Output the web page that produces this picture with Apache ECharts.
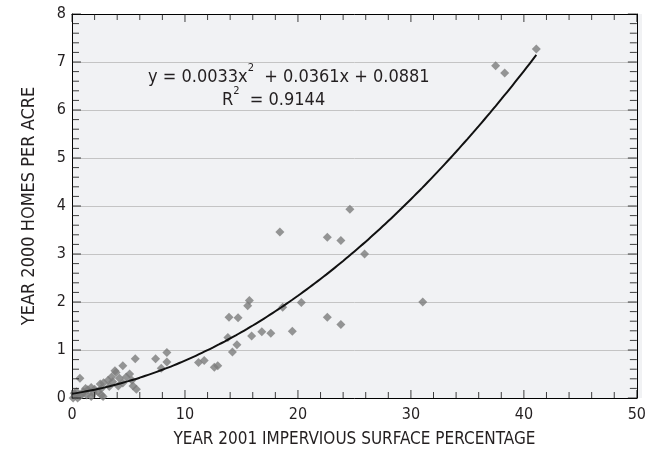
<!DOCTYPE html>
<html>
<head>
<meta charset="utf-8">
<script src="https://cdn.jsdelivr.net/npm/echarts@6/dist/echarts.min.js"></script>
<style>
html,body{margin:0;padding:0;background:#fff}
#wrap{position:relative;width:649px;height:456px;background:#fff}
#plotbg{position:absolute;left:72px;top:14px;width:570px;height:384px;background:#f1f2f4;z-index:0}
#c{position:absolute;left:0;top:0;width:649px;height:456px;z-index:1}
</style>
</head>
<body>
<div id="wrap"><div id="plotbg"></div><div id="c"></div></div>
<script>
var FONT = '"Liberation Sans Narrow","DejaVu Sans Condensed","Roboto Condensed",sans-serif';

var xValues = [0.1,0.5,0.3,0.7,1.3,1.7,2.6,2.75,0.4,1.0,1.4,1.7,1.9,2.3,0.7,2.5,2.8,2.6,3.2,3.3,3.5,3.6,3.8,3.9,4.1,4.2,4.5,4.5,4.8,5.1,5.3,5.4,5.7,5.6,7.4,7.9,8.4,8.4,0.2,0.9,1.2,2.0,
  11.2,11.7,12.6,12.9,13.8,14.2,14.6,13.9,14.7,15.55,15.7,15.9,16.8,17.6,18.4,18.65,19.5,20.3,22.6,22.6,23.8,23.8,24.6,25.9,31.05,37.5,38.3,41.1];
var yValues = [0.0,0.0,0.06,0.04,0.06,0.03,0.06,0.03,0.13,0.13,0.17,0.22,0.10,0.13,0.41,0.29,0.32,0.2,0.37,0.24,0.44,0.34,0.57,0.53,0.25,0.41,0.31,0.67,0.44,0.5,0.37,0.25,0.18,0.82,0.82,0.62,0.75,0.95,0.1,0.08,0.2,0.18,
  0.74,0.78,0.64,0.67,1.26,0.96,1.11,1.68,1.67,1.92,2.03,1.29,1.38,1.35,3.46,1.89,1.39,1.99,3.35,1.68,3.28,1.53,3.93,3.0,2.0,6.92,6.77,7.27];

// regression coefficients shown on the chart: y = a x^2 + b x + c
var fitCoef = [0.0033, 0.0361, 0.0881];
var fitRange = [0, 41.1];
var xTicks = [0, 10, 20, 30, 40, 50];
var yTicks = [0, 1, 2, 3, 4, 5, 6, 7, 8];
var minorSplit = 5;

var points = xValues.map(function (x, i) { return [x, yValues[i]]; });
var fit = [];
for (var x = fitRange[0]; x <= fitRange[1] + 1e-9; x += 0.5) {
  fit.push([x, fitCoef[0] * x * x + fitCoef[1] * x + fitCoef[2]]);
}
if (fit[fit.length - 1][0] < fitRange[1]) {
  var xe = fitRange[1];
  fit.push([xe, fitCoef[0] * xe * xe + fitCoef[1] * xe + fitCoef[2]]);
}

var xMin = xTicks[0], xMax = xTicks[xTicks.length - 1];
var yMin = yTicks[0], yMax = yTicks[yTicks.length - 1];
function minorOf(ticks) {
  var out = [];
  for (var i = 0; i < ticks.length - 1; i++) {
    var step = (ticks[i + 1] - ticks[i]) / minorSplit;
    for (var k = 1; k < minorSplit; k++) out.push(ticks[i] + step * k);
  }
  return out;
}
var xMinor = minorOf(xTicks), yMinor = minorOf(yTicks);

function tickSeries(values, side, len) {
  var data, size, offset;
  if (side === 'bottom') { data = values.map(function (v) { return [v, yMin]; }); size = [1, len]; offset = [0, -len / 2]; }
  if (side === 'top')    { data = values.map(function (v) { return [v, yMax]; }); size = [1, len]; offset = [0, len / 2]; }
  if (side === 'left')   { data = values.map(function (v) { return [xMin, v]; }); size = [len, 1]; offset = [len / 2, 0]; }
  if (side === 'right')  { data = values.map(function (v) { return [xMax, v]; }); size = [len, 1]; offset = [-len / 2, 0]; }
  return {
    type: 'scatter', data: data, symbol: 'rect', symbolSize: size, symbolOffset: offset,
    itemStyle: {color: '#111', borderWidth: 0}, clip: false, silent: true, z: 6,
    emphasis: {disabled: true}
  };
}

var chart = echarts.init(document.getElementById('c'));
function axisX(extra) {
  return Object.assign({
    type: 'value', min: xMin, max: xMax, interval: 10,
    axisLine: {show: true, onZero: false, lineStyle: {color: '#000'}},
    axisTick: {show: false}, minorTick: {show: false},
    splitLine: {show: false}
  }, extra);
}
function axisY(extra) {
  return Object.assign({
    type: 'value', min: yMin, max: yMax, interval: 1,
    axisLine: {show: true, onZero: false, lineStyle: {color: '#000'}},
    axisTick: {show: false}, minorTick: {show: false}
  }, extra);
}

chart.setOption({
  animation: false,
  backgroundColor: 'transparent',
  grid: {left: 72, right: 7, top: 14, bottom: 58, show: false},
  xAxis: [
    axisX({
      position: 'bottom',
      name: 'YEAR 2001 IMPERVIOUS SURFACE PERCENTAGE', nameLocation: 'middle', nameGap: 33,
      nameTextStyle: {fontFamily: FONT, fontSize: 17, color: '#231f20'},
      axisLabel: {show: true, fontFamily: FONT, fontSize: 16, color: '#231f20', margin: 9}
    }),
    axisX({position: 'top', axisLabel: {show: false}})
  ],
  yAxis: [
    axisY({
      position: 'left',
      name: 'YEAR 2000 HOMES PER ACRE', nameLocation: 'middle', nameGap: 34,
      nameTextStyle: {fontFamily: FONT, fontSize: 18, color: '#231f20'},
      axisLabel: {show: true, fontFamily: FONT, fontSize: 16, color: '#231f20', margin: 6},
      splitLine: {show: true, lineStyle: {color: '#c4c4c4', width: 1}}
    }),
    axisY({position: 'right', axisLabel: {show: false}, splitLine: {show: false}})
  ],
  series: [
    {
      type: 'scatter', data: points, symbol: 'diamond', symbolSize: 9,
      itemStyle: {color: '#7c7c7c'}, z: 3
    },
    {
      type: 'line', data: fit, showSymbol: false, smooth: true,
      lineStyle: {color: '#111', width: 2}, z: 4
    },
    tickSeries(xTicks, 'bottom', 8), tickSeries(xMinor, 'bottom', 6),
    tickSeries(xTicks, 'top', 8), tickSeries(xMinor, 'top', 6),
    tickSeries(yTicks, 'left', 9), tickSeries(yMinor, 'left', 7),
    tickSeries(yTicks, 'right', 9), tickSeries(yMinor, 'right', 7)
  ],
  graphic: [
    {
      type: 'text', left: 148, top: 63,
      style: {
        text: '{n|y = 0.0033x}{s|2}{n|  + 0.0361x + 0.0881}',
        rich: {
          n: {fontFamily: FONT, fontSize: 18, fill: '#231f20', lineHeight: 23, verticalAlign: 'bottom'},
          s: {fontFamily: FONT, fontSize: 11, fill: '#231f20', lineHeight: 23, verticalAlign: 'top'}
        }
      }
    },
    {
      type: 'text', left: 222, top: 86,
      style: {
        text: '{n|R}{s|2}{n|  = 0.9144}',
        rich: {
          n: {fontFamily: FONT, fontSize: 18, fill: '#231f20', lineHeight: 23, verticalAlign: 'bottom'},
          s: {fontFamily: FONT, fontSize: 11, fill: '#231f20', lineHeight: 23, verticalAlign: 'top'}
        }
      }
    }
  ]
});
</script>
</body>
</html>
